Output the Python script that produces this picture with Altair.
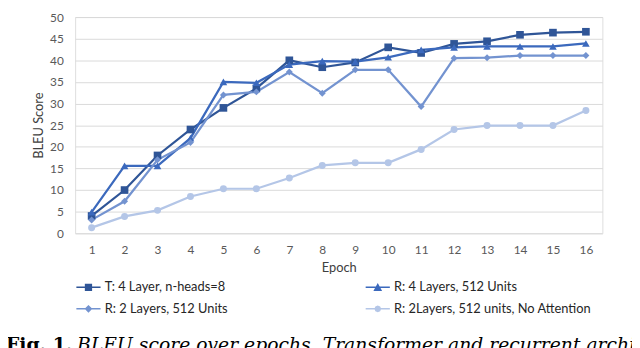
import altair as alt
import pandas as pd

epochs = list(range(1, 17))
series_names = [
    "T: 4 Layer, n-heads=8",
    "R: 4 Layers, 512 Units",
    "R: 2 Layers, 512 Units",
    "R: 2Layers, 512 units, No Attention",
]
t_4layer = [4, 10, 18, 24, 29, 33.5, 40, 38.4, 39.5, 43, 41.7, 43.8, 44.4, 45.9, 46.4, 46.6]
r_4layer = [4.9, 15.6, 15.6, 22, 35, 34.8, 39, 39.8, 39.7, 40.7, 42.4, 43, 43.2, 43.2, 43.2, 43.9]
r_2layer = [3.1, 7.4, 17, 21, 32, 32.7, 37.3, 32.4, 37.8, 37.8, 29.3, 40.5, 40.6, 41.1, 41.1, 41.1]
r_noatt = [1.3, 3.9, 5.3, 8.5, 10.3, 10.3, 12.8, 15.7, 16.3, 16.3, 19.4, 24, 24.9, 24.9, 24.9, 28.4]
colors = ["#2F5597", "#3B69BD", "#7393D0", "#B4C6E7"]
shapes = ["square", "triangle-up", "diamond", "circle"]
line_part = "M-1,-0.06L1,-0.06L1,0.06L-1,0.06Z "
legend_paths = [
    line_part + "M-0.3,-0.3L0.3,-0.3L0.3,0.3L-0.3,0.3Z",
    line_part + "M0,-0.36L0.36,0.3L-0.36,0.3Z",
    line_part + "M0,-0.32L0.32,0L0,0.32L-0.32,0Z",
    line_part + "M0,-0.28L0.2,-0.2L0.28,0L0.2,0.2L0,0.28L-0.2,0.2L-0.28,0L-0.2,-0.2Z",
]
# legend order (column-major layout): T, R2 in the first column; R4, no-attention in the second
legend_order = [0, 2, 1, 3]
y_ticks = list(range(0, 51, 5))
caption_bold = "Fig. 1."
caption_italic = "BLEU score over epochs. Transformer and recurrent architectures"

rows = []
for name, vals in zip(series_names, [t_4layer, r_4layer, r_2layer, r_noatt]):
    for e, v in zip(epochs, vals):
        rows.append({"series": name, "label": name, "epoch": e, "value": v})
df = pd.DataFrame(rows)

font = "Lato"
x_enc = alt.X("epoch:O", title="Epoch", scale=alt.Scale(padding=0.5),
              axis=alt.Axis(labelAngle=0, grid=False, ticks=False, domain=False,
                            labelPadding=11, labelFontSize=12, labelColor="#595959",
                            labelFont=font, titleFont=font, titleFontSize=13,
                            titleFontWeight="normal", titleColor="#404040", titlePadding=7))
y_enc = alt.Y("value:Q", title="BLEU Score",
              scale=alt.Scale(domain=[0, 50], nice=False),
              axis=alt.Axis(values=y_ticks, grid=True, gridColor="#D9D9D9", ticks=False,
                            domain=False, labelPadding=12, labelFontSize=12,
                            labelColor="#595959", labelFont=font, titleFont=font,
                            titleFontSize=13, titleFontWeight="normal",
                            titleColor="#404040", titlePadding=4))
color_scale = alt.Scale(domain=series_names, range=colors)

base = alt.Chart(df)
lines = base.mark_line(strokeWidth=2.25).encode(
    x=x_enc, y=y_enc,
    color=alt.Color("series:N", scale=color_scale, legend=None),
)
point_layers = []
for name, shp in zip(series_names, shapes):
    size = 60 if shp in ("square", "triangle-up") else 50
    point_layers.append(
        base.transform_filter(alt.datum.series == name)
        .mark_point(filled=True, opacity=1, shape=shp, size=size, strokeWidth=0)
        .encode(x=x_enc, y=y_enc,
                color=alt.Color("series:N", scale=color_scale, legend=None))
    )

leg_domain = [series_names[i] for i in legend_order]
leg_colors = [colors[i] for i in legend_order]
leg_paths = [legend_paths[i] for i in legend_order]
leg = alt.Legend(title=None, orient="none", legendX=1, legendY=261,
                 columns=2, columnPadding=139, rowPadding=2,
                 symbolSize=600, symbolStrokeWidth=0, symbolOpacity=1,
                 labelFont=font, labelFontSize=13,
                 labelColor="#262626", labelOffset=4, labelLimit=400)
legend_layer = base.mark_point(filled=True, opacity=1).encode(
    x=x_enc,
    y=alt.value(-300),
    fill=alt.Fill("label:N", scale=alt.Scale(domain=leg_domain, range=leg_colors),
                  sort=leg_domain, legend=leg),
    shape=alt.Shape("label:N", scale=alt.Scale(domain=leg_domain, range=leg_paths),
                    sort=leg_domain, legend=leg),
)

cap_df = pd.DataFrame({"b": [caption_bold], "i": [caption_italic]})
cap_bold = alt.Chart(cap_df).mark_text(
    align="left", baseline="alphabetic", font="DejaVu Serif", fontSize=19,
    fontWeight="bold", color="#000000"
).encode(x=alt.value(-70), y=alt.value(338), text="b:N")
cap_it = alt.Chart(cap_df).mark_text(
    align="left", baseline="alphabetic", font="DejaVu Serif", fontSize=19,
    fontStyle="italic", color="#000000"
).encode(x=alt.value(2), y=alt.value(338), text="i:N")

chart = alt.layer(legend_layer, lines, *point_layers, cap_bold, cap_it).properties(
    width=534, height=219,
    autosize=alt.AutoSizeParams(type="none"),
    padding={"left": 68, "top": 7, "right": 30, "bottom": 114},
).configure_view(stroke=None).configure(background="white")

chart.save("out.html", embed_options={"renderer": "svg", "actions": False})
